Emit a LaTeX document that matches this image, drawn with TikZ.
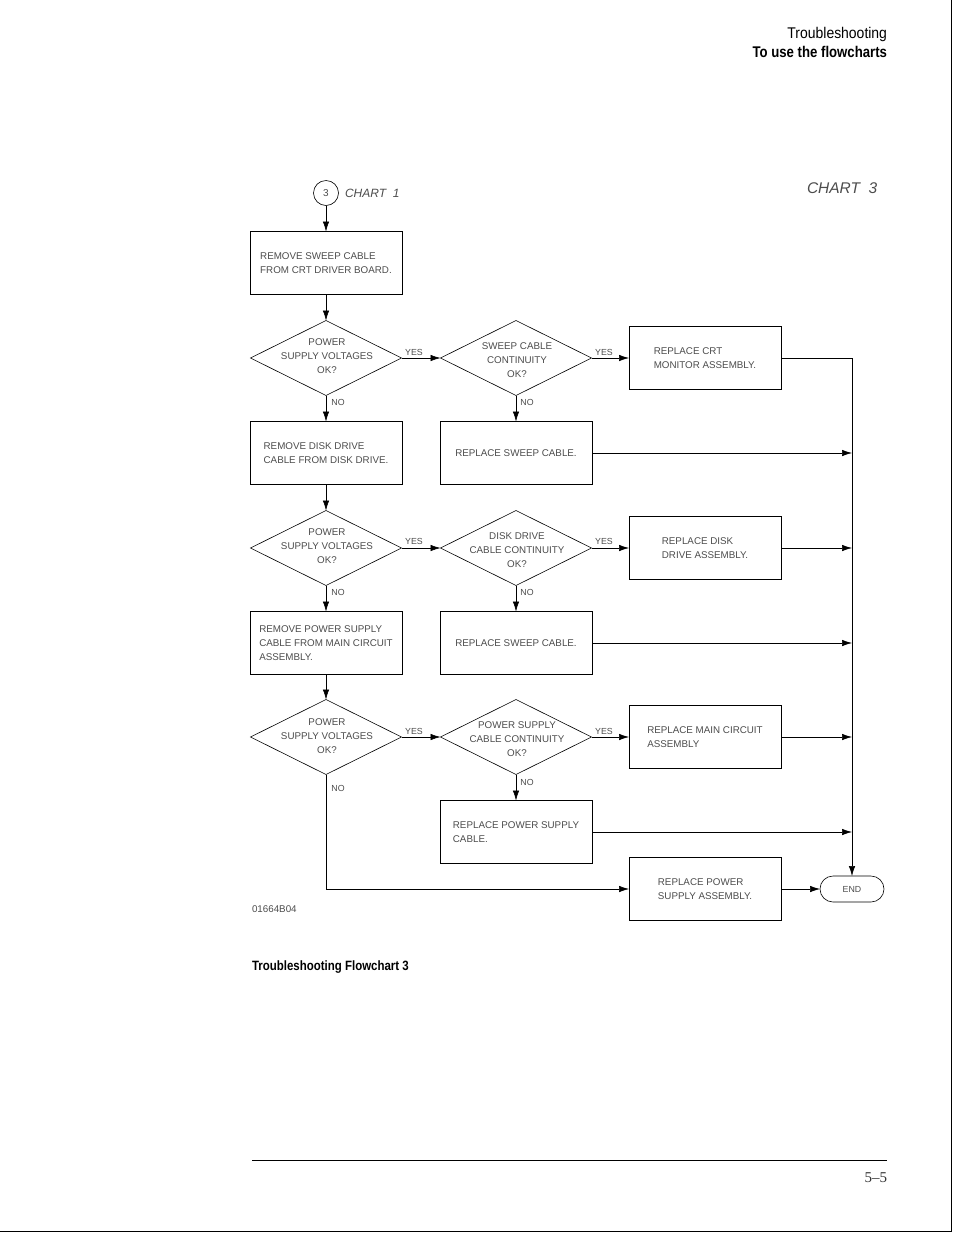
\documentclass[tikz,border=0pt]{standalone}
\usepackage{fontspec}
\setmainfont{Liberation Sans}
\newfontfamily\hdrfont[FakeStretch=0.9]{Liberation Sans}
\newfontfamily\hdrbold[FakeStretch=0.85]{Liberation Sans Bold}
\newfontfamily\pgfont[Ligatures=TeX]{Liberation Serif}
\usetikzlibrary{arrows.meta,shapes.geometric,shapes.misc}
\tikzset{
  x=1pt,y=-1pt,
  every node/.style={inner sep=0pt,outer sep=0pt},
  ctext/.style={font=\fontsize{9.8}{14}\selectfont, text=black!70},
  stepbox/.style={draw, line width=0.6pt, minimum width=152pt, minimum height=63pt, ctext, align=left},
  dec/.style={draw, diamond, line width=0.6pt, minimum width=151pt, minimum height=75pt},
  dtext/.style={ctext, align=center},
  lbl/.style={font=\fontsize{8.8}{10}\selectfont, text=black!70},
  conn/.style={line width=0.6pt, -{Latex[length=10pt,width=6.5pt]}},
}
\begin{document}
\begin{tikzpicture}
\useasboundingbox (0,0) rectangle (954,1235);
% page frame
\draw[line width=1pt] (951,0) -- (951,1231) -- (0,1231);
% header
\node[anchor=base east, font=\fontsize{15.5}{18}\hdrfont] (h1) at (887,38) {Troubleshooting};
\node[anchor=base east, font=\fontsize{15.5}{18}\hdrbold] (h2) at (887,57) {To use the flowcharts};
\node[anchor=base west, font=\fontsize{13.5}{16}\hdrbold] (cap) at (252,970) {Troubleshooting Flowchart 3};
\draw[line width=1pt] (252,1160) -- (887,1160);
\node[anchor=base east, font=\fontsize{15}{18}\pgfont, text=black!80] (pg) at (887,1182) {5–5};
\node[anchor=base west, font=\itshape\fontsize{15.5}{18}\selectfont, text=black!70] (ch3) at (807,193) {CHART~~3};

% start
\node[draw, circle, minimum size=25pt, line width=0.6pt, font=\fontsize{10}{12}\selectfont, text=black!70] (c3) at (326,193) {3};
\node[anchor=west, font=\itshape\fontsize{12}{14}\selectfont, text=black!70] (ch1) at (345,193) {CHART~~1};
\node[anchor=west, font=\fontsize{9.8}{12}\selectfont, text=black!70] (code) at (252,909) {01664B04};

% column 1
\node[stepbox] (b1) at (326,263) {REMOVE SWEEP CABLE\\FROM CRT DRIVER BOARD.};
\node[dec] (d1) at (326,358) {};
\node[dtext] (d1t) at (327,356) {POWER\\SUPPLY VOLTAGES\\OK?};
\node[stepbox] (b2) at (326,453) {REMOVE DISK DRIVE\\CABLE FROM DISK DRIVE.};
\node[dec] (d3) at (326,548) {};
\node[dtext] (d3t) at (327,546) {POWER\\SUPPLY VOLTAGES\\OK?};
\node[stepbox] (b3) at (326,643) {REMOVE POWER SUPPLY\\CABLE FROM MAIN CIRCUIT\\ASSEMBLY.};
\node[dec] (d5) at (326,737) {};
\node[dtext] (d5t) at (327,736) {POWER\\SUPPLY VOLTAGES\\OK?};

% column 2
\node[dec] (d2) at (516,358) {};
\node[dtext] (d2t) at (517,360) {SWEEP CABLE\\CONTINUITY\\OK?};
\node[stepbox] (r2) at (516,453) {REPLACE SWEEP CABLE.};
\node[dec] (d4) at (516,548) {};
\node[dtext] (d4t) at (517,550) {DISK DRIVE\\CABLE CONTINUITY\\OK?};
\node[stepbox] (r4) at (516,643) {REPLACE SWEEP CABLE.};
\node[dec] (d6) at (516,737) {};
\node[dtext] (d6t) at (517,739) {POWER SUPPLY\\CABLE CONTINUITY\\OK?};
\node[stepbox] (r6) at (516,832) {REPLACE POWER SUPPLY\\CABLE.};

% column 3
\node[stepbox] (r1) at (705,358) {REPLACE CRT\\MONITOR ASSEMBLY.};
\node[stepbox] (r3) at (705,548) {REPLACE DISK\\DRIVE ASSEMBLY.};
\node[stepbox] (r5) at (705,737) {REPLACE MAIN CIRCUIT\\ASSEMBLY};
\node[stepbox] (r7) at (705,889) {REPLACE POWER\\SUPPLY ASSEMBLY.};
\node[draw, rounded rectangle, line width=0.6pt, minimum width=64pt, minimum height=26pt, lbl] (end) at (852,889) {END};

% junctions on the right collector line
\coordinate (j2) at (end.north |- r2.east);
\coordinate (j3) at (end.north |- r3.east);
\coordinate (j4) at (end.north |- r4.east);
\coordinate (j5) at (end.north |- r5.east);
\coordinate (j6) at (end.north |- r6.east);

% connectors
\draw[conn] (c3) -- (b1);
\draw[conn] (b1) -- (d1);
\draw[conn] (d1.east) -- (d2.west);
\draw[conn] (d2.east) -- (r1.west);
\draw[conn] (d1.south) -- (b2.north);
\draw[conn] (d2.south) -- (r2.north);
\draw[conn] (b2) -- (d3);
\draw[conn] (d3.east) -- (d4.west);
\draw[conn] (d4.east) -- (r3.west);
\draw[conn] (d3.south) -- (b3.north);
\draw[conn] (d4.south) -- (r4.north);
\draw[conn] (b3) -- (d5);
\draw[conn] (d5.east) -- (d6.west);
\draw[conn] (d6.east) -- (r5.west);
\draw[conn] (d6.south) -- (r6.north);
\draw[conn] (d5.south) |- (r7.west);
\draw[conn] (r7.east) -- (end.west);
\draw[conn] (r1.east) -| (end.north);
\draw[conn] (r2.east) -- (j2);
\draw[conn] (r3.east) -- (j3);
\draw[conn] (r4.east) -- (j4);
\draw[conn] (r5.east) -- (j5);
\draw[conn] (r6.east) -- (j6);

% labels
\node[lbl] (y1) at (414,352) {YES};
\node[lbl] (y2) at (604,352) {YES};
\node[lbl] (y3) at (414,541) {YES};
\node[lbl] (y4) at (604,541) {YES};
\node[lbl] (y5) at (414,731) {YES};
\node[lbl] (y6) at (604,731) {YES};
\node[lbl] (n1) at (338,402) {NO};
\node[lbl] (n2) at (527,402) {NO};
\node[lbl] (n3) at (338,592) {NO};
\node[lbl] (n4) at (527,592) {NO};
\node[lbl] (n5) at (338,788) {NO};
\node[lbl] (n6) at (527,782) {NO};
\end{tikzpicture}
\end{document}
